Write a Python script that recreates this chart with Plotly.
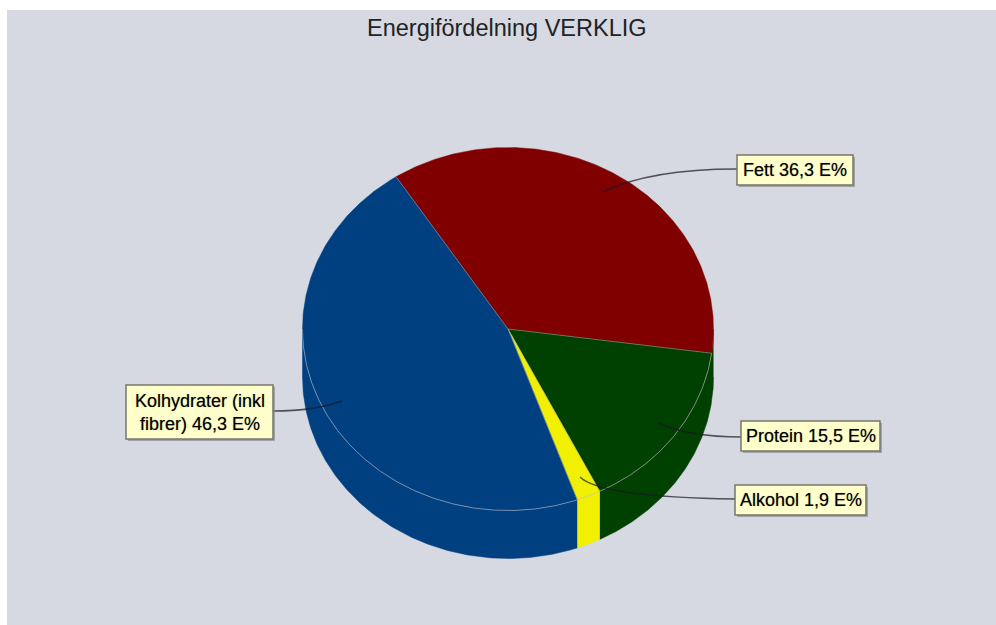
import numpy as np
import plotly.graph_objects as go

TITLE = "Energifördelning VERKLIG"
CATEGORIES = ["Fett", "Protein", "Alkohol", "Kolhydrater (inkl<br>fibrer)"]
VALUES = [36.3, 15.5, 1.9, 46.3]
COLORS = ["#800000", "#004000", "#F0F000", "#004080"]
UNIT = "E%"

PANEL = "#D6D9E2"
CX, CY, RX, RY, DEPTH = 508.0, 329.0, 205.5, 181.5, 48.0
START_DEG = 123.0
RIM = "rgba(190,190,195,0.6)"

# label boxes: x0, y0, x1, y1 ; leader: quadratic path
BOXES = [(737, 155, 853, 185), (741, 421, 880, 451), (735, 485, 866, 515), (126, 385, 273, 439)]
LEADERS = [
    "M603,192 Q650,169 737,169",
    "M658,423 Q690,437 741,437",
    "M580,477 Q600,497 735,499",
    "M342,401 Q315,411 273,411",
]


def ell(t, dy=0.0):
    return CX + RX * np.cos(t), CY - RY * np.sin(t) + dy


fig = go.Figure()
angles = np.deg2rad(START_DEG - 3.6 * np.concatenate([[0], np.cumsum(VALUES)]))
front_start = angles[1]  # the rim starts where the first front-facing wedge begins

# side walls first: only the front half of the cylinder is visible, and the
# wall at the right edge carries the colour of the first front-facing wedge
for i in range(1, len(VALUES)):
    hi = 0.0 if i == 1 else angles[i]
    lo = max(angles[i + 1], -np.pi)
    t = np.linspace(hi, lo, 160)
    x1, y1 = ell(t)
    x2, y2 = ell(t[::-1], DEPTH)
    fig.add_trace(go.Scatter(x=np.r_[x1, x2], y=np.r_[y1, y2], mode="lines", fill="toself",
                             fillcolor=COLORS[i], line=dict(color=COLORS[i], width=0.5),
                             hoverinfo="skip", showlegend=False))

# top wedges
for i, name in enumerate(CATEGORIES):
    t = np.linspace(angles[i], angles[i + 1], 240)
    x, y = ell(t)
    fig.add_trace(go.Scatter(x=np.r_[CX, x, CX], y=np.r_[CY, y, CY], mode="lines", fill="toself",
                             fillcolor=COLORS[i], line=dict(color=COLORS[i], width=0.5),
                             name=name, hoverinfo="name", showlegend=False))

# thin light edges of the wedges and front rim
for a in angles[:-1]:
    x, y = ell(a)
    fig.add_trace(go.Scatter(x=[CX, x], y=[CY, y], mode="lines", line=dict(color="rgba(170,170,180,0.5)", width=1),
                             hoverinfo="skip", showlegend=False))
t = np.linspace(front_start, -np.pi, 300)
x, y = ell(t)
fig.add_trace(go.Scatter(x=x, y=y, mode="lines", line=dict(color=RIM, width=1), hoverinfo="skip", showlegend=False))

shapes, annotations = [], []
for (x0, y0, x1, y1), path, name, v in zip(BOXES, LEADERS, CATEGORIES, VALUES):
    shapes.append(dict(type="path", path=path, xref="x", yref="y", line=dict(color="rgba(25,25,35,0.72)", width=1.4)))
    shapes.append(dict(type="rect", xref="x", yref="y", x0=x0 + 2, y0=y0 + 2, x1=x1 + 2, y1=y1 + 2,
                       fillcolor="rgba(120,120,130,0.55)", line=dict(width=0)))
    shapes.append(dict(type="rect", xref="x", yref="y", x0=x0, y0=y0, x1=x1, y1=y1,
                       fillcolor="#FFFFCC", line=dict(color="#777768", width=1.5)))
    annotations.append(dict(x=(x0 + x1) / 2, y=(y0 + y1) / 2, xref="x", yref="y", showarrow=False,
                            text=f"{name} {str(v).replace('.', ',')} {UNIT}", align="center",
                            font=dict(family="Liberation Sans", size=18, color="#000000",
                                      shadow="0 0 1px rgba(0,0,0,0.45)")))
annotations.append(dict(x=507, y=28, xref="x", yref="y", showarrow=False, text=TITLE,
                        font=dict(family="Liberation Sans", size=23.5, color="#222222")))

fig.update_layout(
    width=996, height=625, margin=dict(l=7, r=0, t=10, b=0),
    paper_bgcolor="white", plot_bgcolor=PANEL,
    xaxis=dict(range=[7, 996], visible=False, fixedrange=True),
    yaxis=dict(range=[625, 10], visible=False, fixedrange=True),
    shapes=shapes, annotations=annotations, showlegend=False,
)
fig.write_html("out.html", post_script="document.body.style.margin='0';", config={"displayModeBar": False})
